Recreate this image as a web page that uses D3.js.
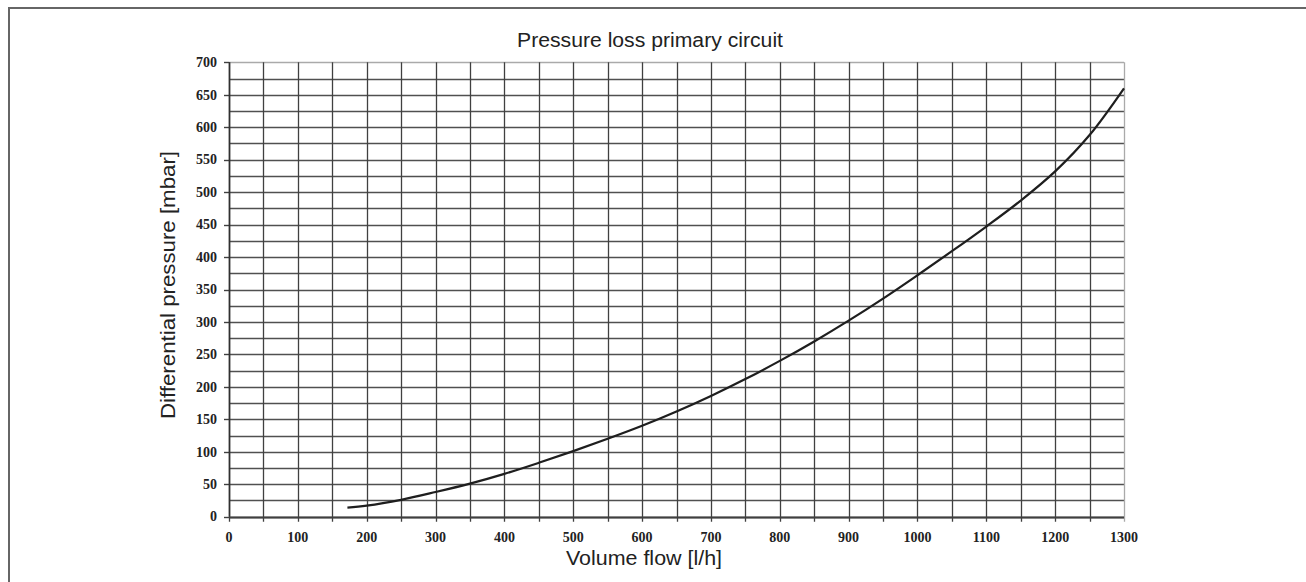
<!DOCTYPE html>
<html><head><meta charset="utf-8">
<script src="https://cdn.jsdelivr.net/npm/d3@7"></script>
<style>body{margin:0;background:#fff}</style>
</head><body>
<svg id="c" width="1306" height="582"></svg>
<script>
// ---- data ----
const flowValues     = [172, 200, 250, 300, 350, 400, 450, 500, 550, 600, 650, 700, 750, 800, 850, 900, 950, 1000, 1050, 1100, 1150, 1200, 1250, 1300];
const pressureValues = [14, 17, 26, 38, 51, 66, 83, 101, 120, 140, 162, 186, 212, 240, 270, 302, 336, 372, 409, 447, 487, 532, 588, 660];
const xTickLabels = [0, 100, 200, 300, 400, 500, 600, 700, 800, 900, 1000, 1100, 1200, 1300];
const xGridValues = [0, 50, 100, 150, 200, 250, 300, 350, 400, 450, 500, 550, 600, 650, 700, 750, 800, 850, 900, 950, 1000, 1050, 1100, 1150, 1200, 1250, 1300];
const yTickLabels = [0, 50, 100, 150, 200, 250, 300, 350, 400, 450, 500, 550, 600, 650, 700];
const yGridValues = [0, 25, 50, 75, 100, 125, 150, 175, 200, 225, 250, 275, 300, 325, 350, 375, 400, 425, 450, 475, 500, 525, 550, 575, 600, 625, 650, 675, 700];
const titleText = "Pressure loss primary circuit";
const xTitle = "Volume flow [l/h]";
const yTitle = "Differential pressure [mbar]";

// ---- layout ----
const svg = d3.select("#c");
const x = d3.scaleLinear().domain([0, 1300]).range([229, 1124]);
const y = d3.scaleLinear().domain([0, 700]).range([516.7, 62.3]);

// outer frame (left + top)
svg.append("line").attr("x1", 9).attr("x2", 9).attr("y1", 7).attr("y2", 582)
  .attr("stroke", "#666").attr("stroke-width", 2);
svg.append("line").attr("x1", 8).attr("x2", 1306).attr("y1", 8).attr("y2", 8)
  .attr("stroke", "#666").attr("stroke-width", 2);

const g = svg.append("g");

// horizontal grid
g.selectAll("line.hg").data(yGridValues).join("line").attr("class", "hg")
  .attr("x1", x(0)).attr("x2", x(1300))
  .attr("y1", d => Math.round(y(d)) + 0.5).attr("y2", d => Math.round(y(d)) + 0.5)
  .attr("stroke", d => d === 700 ? "#aaa" : "#505050").attr("stroke-width", 1.4);

// vertical grid (extending below axis as ticks)
g.selectAll("line.vg").data(xGridValues).join("line").attr("class", "vg")
  .attr("x1", d => Math.round(x(d)) + 0.5).attr("x2", d => Math.round(x(d)) + 0.5)
  .attr("y1", y(700)).attr("y2", y(0) + 5)
  .attr("stroke", d => d === 1300 ? "#aaa" : "#404040").attr("stroke-width", 1.3);

// y ticks
g.selectAll("line.yt").data(yTickLabels).join("line").attr("class", "yt")
  .attr("x1", x(0) - 5).attr("x2", x(0))
  .attr("y1", d => Math.round(y(d)) + 0.5).attr("y2", d => Math.round(y(d)) + 0.5)
  .attr("stroke", "#404040").attr("stroke-width", 1.4);

// axes lines
g.append("line").attr("x1", x(0) + 0.5).attr("x2", x(0) + 0.5).attr("y1", y(700)).attr("y2", y(0))
  .attr("stroke", "#303030").attr("stroke-width", 1.6);
g.append("line").attr("x1", x(0)).attr("x2", x(1300)).attr("y1", Math.round(y(0)) + 0.5).attr("y2", Math.round(y(0)) + 0.5)
  .attr("stroke", "#404040").attr("stroke-width", 1.8);

// tick labels
g.selectAll("text.yl").data(yTickLabels).join("text").attr("class", "yl")
  .attr("x", 217).attr("y", d => y(d)).attr("dy", "0.34em")
  .attr("text-anchor", "end")
  .attr("font-family", "'Liberation Serif', 'Times New Roman', serif")
  .attr("font-weight", "bold").attr("font-size", 14).attr("fill", "#222")
  .text(d => d);
g.selectAll("text.xl").data(xTickLabels).join("text").attr("class", "xl")
  .attr("x", d => x(d)).attr("y", 541.5)
  .attr("text-anchor", "middle")
  .attr("font-family", "'Liberation Serif', 'Times New Roman', serif")
  .attr("font-weight", "bold").attr("font-size", 14).attr("fill", "#222")
  .text(d => d);

// curve
const pts = flowValues.map((f, i) => [f, pressureValues[i]]);
g.append("path").datum(pts)
  .attr("d", d3.line().x(d => x(d[0])).y(d => y(d[1])).curve(d3.curveCatmullRom.alpha(0.5)))
  .attr("fill", "none").attr("stroke", "#1e1e1e").attr("stroke-width", 2.2)
  .attr("stroke-linejoin", "round");

// titles
const sans = "'Liberation Sans', Arial, Helvetica, sans-serif";
svg.append("text").attr("x", 650).attr("y", 46.5).attr("text-anchor", "middle")
  .attr("font-family", sans).attr("font-size", 20).attr("fill", "#222")
  .attr("textLength", 266).attr("lengthAdjust", "spacingAndGlyphs")
  .text(titleText);
svg.append("text").attr("x", 644).attr("y", 565).attr("text-anchor", "middle")
  .attr("font-family", sans).attr("font-size", 20).attr("fill", "#222")
  .attr("textLength", 156).attr("lengthAdjust", "spacingAndGlyphs")
  .text(xTitle);
svg.append("text").attr("transform", "translate(175,285) rotate(-90)").attr("text-anchor", "middle")
  .attr("font-family", sans).attr("font-size", 20).attr("fill", "#222")
  .attr("textLength", 268).attr("lengthAdjust", "spacingAndGlyphs")
  .text(yTitle);
</script>
</body></html>
